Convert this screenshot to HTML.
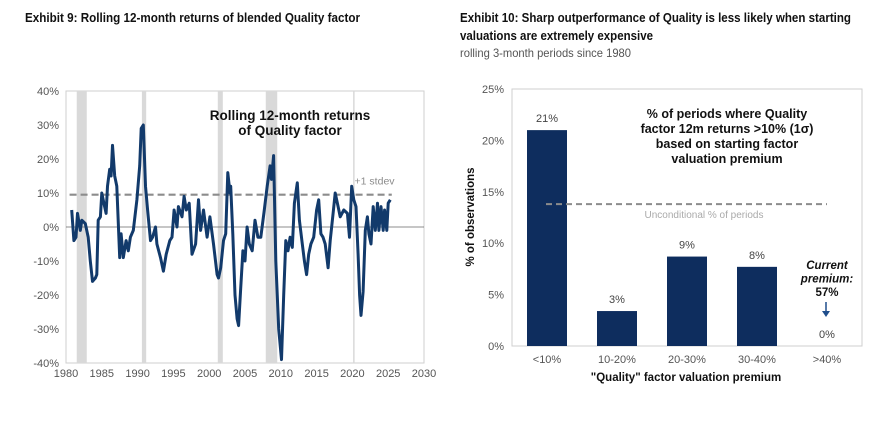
<!DOCTYPE html>
<html><head><meta charset="utf-8"><style>
body{margin:0;background:#fff;}
svg{display:block;font-family:"Liberation Sans",Arial,sans-serif;}
</style></head><body>
<svg id="s" width="892" height="423" viewBox="0 0 892 423">
<text x="25" y="22" font-size="13" font-weight="bold" fill="#111" textLength="335" lengthAdjust="spacingAndGlyphs">Exhibit 9: Rolling 12-month returns of blended Quality factor</text>
<text x="460" y="22" font-size="13" font-weight="bold" fill="#111" textLength="391" lengthAdjust="spacingAndGlyphs">Exhibit 10: Sharp outperformance of Quality is less likely when starting</text>
<text x="460" y="40" font-size="13" font-weight="bold" fill="#111" textLength="193" lengthAdjust="spacingAndGlyphs">valuations are extremely expensive</text>
<text x="460" y="57" font-size="12" fill="#555" textLength="171" lengthAdjust="spacingAndGlyphs">rolling 3-month periods since 1980</text>
<g id="left"></g>
<g id="right"></g>
</svg>
<script>
const years=[1980.8,1981.1,1981.4,1981.6,1982.0,1982.2,1982.7,1983.1,1983.4,1983.7,1984.1,1984.3,1984.5,1984.8,1985.0,1985.3,1985.6,1985.8,1986.1,1986.3,1986.5,1986.8,1987.1,1987.5,1987.7,1988.0,1988.4,1988.7,1989.0,1989.4,1989.9,1990.3,1990.5,1990.8,1991.1,1991.4,1991.8,1992.1,1992.5,1992.7,1993.2,1993.6,1994.0,1994.5,1994.8,1995.1,1995.5,1995.7,1996.2,1996.5,1996.8,1997.2,1997.6,1998.1,1998.5,1998.8,1999.2,1999.7,2000.1,2000.6,2001.1,2001.3,2001.6,2002.0,2002.3,2002.6,2002.9,2003.0,2003.3,2003.6,2003.9,2004.1,2004.4,2004.7,2005.0,2005.3,2005.6,2006.0,2006.4,2006.8,2007.2,2007.7,2008.1,2008.5,2008.7,2009.0,2009.3,2009.7,2010.1,2010.4,2010.7,2011.0,2011.3,2011.6,2011.9,2012.3,2012.6,2013.0,2013.3,2013.6,2013.9,2014.2,2014.6,2015.0,2015.3,2015.6,2015.9,2016.2,2016.6,2016.9,2017.3,2017.6,2018.0,2018.3,2018.8,2019.3,2019.6,2019.9,2020.2,2020.5,2020.8,2021.0,2021.2,2021.5,2021.8,2022.1,2022.3,2022.6,2022.9,2023.2,2023.5,2023.7,2024.0,2024.3,2024.5,2024.8,2025.0,2025.3];
const returns=[5,-4,-3,4,-1,2,1,-3,-10,-16,-15,-14,2,3,10,7,4,12,17,15,24,15,12,-9,-2,-9,-4,-7,-3,-1,8,18,29,30,12,5,-4,-3,0,-5,-9,-13,-8,-4,-3,5,0,6,3,9,5,7,-8,-5,8,-1,5,-3,3,-5,-14,-15,-12,-4,-2,16,10,12,-2,-20,-27,-29,-18,-7,-10,0,-5,-7,2,-3,-3,5,12,18,14,21,-10,-30,-39,-20,-4,-7,-3,-6,7,13,2,-5,-10,-14,-8,-5,-3,5,8,-2,-3,-5,-12,-4,4,10,6,3,5,4,-3,12,8,6,-8,-20,-26,-19,-1,3,-2,-5,6,-1,7,-1,6,-1,5,-1,7,8];
const recessionStarts=[1981.5,1990.6,2001.2,2007.9,2020.1];
const recessionEnds=[1982.9,1991.2,2001.9,2009.5,2020.3];
const yTicksL=[40,30,20,10,0,-10,-20,-30,-40];
const xTicksL=[1980,1985,1990,1995,2000,2005,2010,2015,2020,2025,2030];
const stdev=[9.5];

const cats=["<10%","10-20%","20-30%","30-40%",">40%"];
const obs=[21,3.4,8.7,7.7,0];
const obsLabels=["21%","3%","9%","8%","0%"];
const uncond=[13.8];
const yTicksR=[0,5,10,15,20,25];

const NS="http://www.w3.org/2000/svg";
function mk(parent,tag,attrs,name,text){const e=document.createElementNS(NS,tag);for(const k in attrs)e.setAttribute(k,attrs[k]);


if(text!==undefined)e.textContent=text;parent.appendChild(e);return e;}

// left chart
const L=document.getElementById('left');
const lx0=66,lx1=424,ly0=91,ly1=363;
const xL=y=>lx0+(y-1980)/(2030-1980)*(lx1-lx0);
const yL=v=>ly1-(v+40)/80*(ly1-ly0);
mk(L,'rect',{x:lx0,y:ly0,width:lx1-lx0,height:ly1-ly0,fill:'#fff',stroke:'#cfcfcf'},'left-plot-area');
recessionStarts.forEach((s,i)=>{const w=Math.max(1.5,xL(recessionEnds[i])-xL(s));mk(L,'rect',{x:xL(s),y:ly0,width:w,height:ly1-ly0,fill:'#d9d9d9'},'recession-band');});
mk(L,'line',{x1:lx0,x2:lx1,y1:yL(0),y2:yL(0),stroke:'#666','stroke-width':0.8},'zero-line');
yTicksL.forEach(t=>mk(L,'text',{x:lx0-7,y:yL(t)+4,'font-size':11,fill:'#555','text-anchor':'end'},'y-tick-label',t+'%'));
xTicksL.forEach(t=>mk(L,'text',{x:xL(t),y:ly1+14,'font-size':11,fill:'#555','text-anchor':'middle'},'x-tick-label',String(t)));
mk(L,'line',{x1:xL(1980.5),x2:xL(2025.5),y1:yL(stdev[0]),y2:yL(stdev[0]),stroke:'#8c8c8c','stroke-width':2.2,'stroke-dasharray':'7,4'},'stdev-line');
mk(L,'text',{x:xL(2020.3),y:yL(stdev[0])-10,'font-size':10.5,fill:'#8c8c8c'},'stdev-label','+1 stdev');
mk(L,'polyline',{points:years.map((y,i)=>xL(y).toFixed(1)+','+yL(returns[i]).toFixed(1)).join(' '),fill:'none',stroke:'#123a6b','stroke-width':3,'stroke-linejoin':'round'},'quality-returns-line');
mk(L,'text',{x:290,y:120,'font-size':13.5,'font-weight':'bold',fill:'#111','text-anchor':'middle'},'left-chart-annotation-1','Rolling 12-month returns');
mk(L,'text',{x:290,y:135,'font-size':13.5,'font-weight':'bold',fill:'#111','text-anchor':'middle'},'left-chart-annotation-2','of Quality factor');

// right chart
const R=document.getElementById('right');
const rx0=512,rx1=862,ry0=89,ry1=346;
const yR=v=>ry1-v/25*(ry1-ry0);
const band=(rx1-rx0)/cats.length;
const xR=i=>rx0+band*(i+0.5);
mk(R,'rect',{x:rx0,y:ry0,width:rx1-rx0,height:ry1-ry0,fill:'#fff',stroke:'#cfcfcf'},'right-plot-area');
yTicksR.forEach(t=>mk(R,'text',{x:rx0-8,y:yR(t)+4,'font-size':11,fill:'#555','text-anchor':'end'},'y-tick-label',t+'%'));
cats.forEach((c,i)=>mk(R,'text',{x:xR(i),y:ry1+17,'font-size':11,fill:'#555','text-anchor':'middle'},'x-tick-label',c));
obs.forEach((v,i)=>{
 if(v>0)mk(R,'rect',{x:xR(i)-20,y:yR(v),width:40,height:ry1-yR(v),fill:'#0e2d5e'},'bar-'+i);
 mk(R,'text',{x:xR(i),y:yR(v)-8,'font-size':11,fill:'#444','text-anchor':'middle'},'bar-value-label',obsLabels[i]);
});
mk(R,'line',{x1:xR(0)-1,x2:xR(4),y1:yR(uncond[0]),y2:yR(uncond[0]),stroke:'#8c8c8c','stroke-width':2,'stroke-dasharray':'6,4'},'unconditional-line');
mk(R,'text',{x:704,y:218,'font-size':10,fill:'#aaa','text-anchor':'middle'},'unconditional-label','Unconditional % of periods');
['% of periods where Quality','factor 12m returns >10% (1σ)','based on starting factor','valuation premium'].forEach((t,i)=>
 mk(R,'text',{x:727,y:118+i*15,'font-size':12.5,'font-weight':'bold',fill:'#111','text-anchor':'middle'},'right-chart-annotation',t));
['Current','premium:','57%'].forEach((t,i)=>
 mk(R,'text',{x:827,y:269+i*13.5,'font-size':11.5,'font-weight':'bold','font-style':i<2?'italic':'normal',fill:'#111','text-anchor':'middle'},'current-premium-note',t));
mk(R,'line',{x1:826,x2:826,y1:302,y2:312,stroke:'#1f4e8c','stroke-width':1.5},'current-arrow-shaft');
mk(R,'path',{d:'M822,311 L830,311 L826,317 Z',fill:'#1f4e8c'},'current-arrow-head');
mk(R,'text',{x:686,y:381,'font-size':11.5,'font-weight':'bold',fill:'#111','text-anchor':'middle'},'x-axis-title','"Quality" factor valuation premium');
mk(R,'text',{x:0,y:0,'font-size':11.5,'font-weight':'bold',fill:'#111','text-anchor':'middle',transform:'translate(474,217) rotate(-90)'},'y-axis-title','% of observations');
</script>
</body></html>
